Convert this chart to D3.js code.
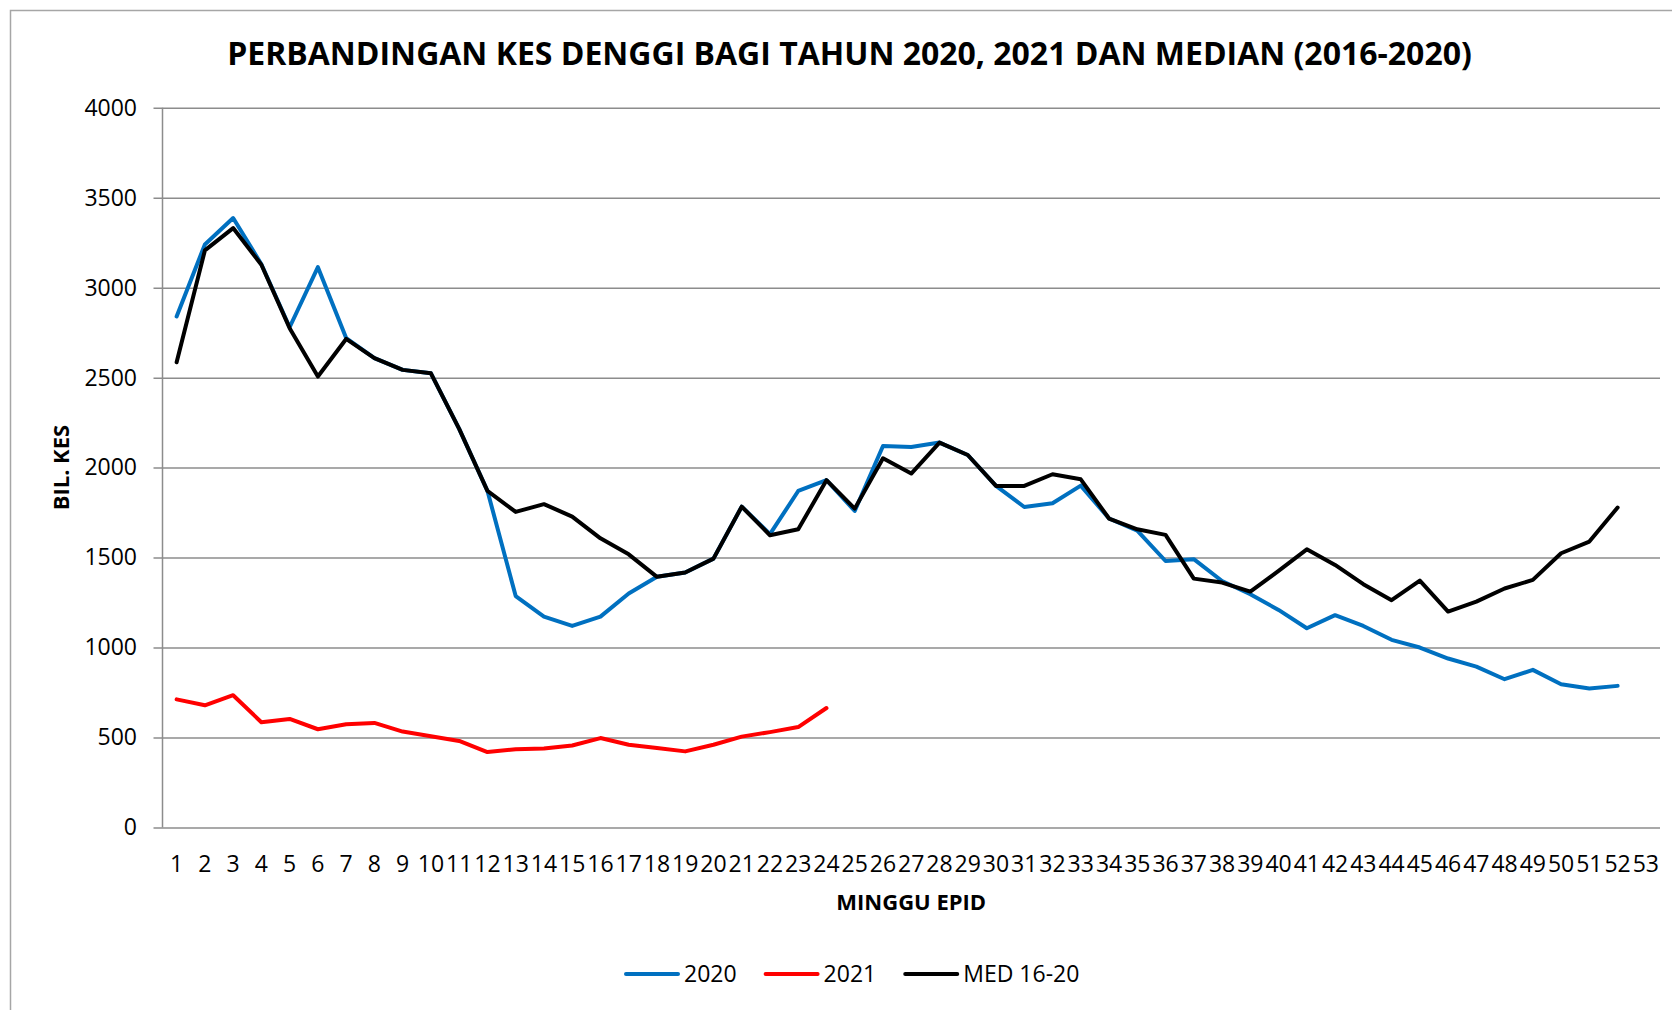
<!DOCTYPE html>
<html>
<head>
<meta charset="utf-8">
<script src="https://cdn.jsdelivr.net/npm/d3@7"></script>
<style>
  body { margin: 0; background: #fff; }
  text { font-family: "Open Sans", sans-serif; fill: #000; }
</style>
</head>
<body>
<div id="chart"></div>
<script>
// ===========Data
var weeks = d3.range(1, 54);
var yTicks = [0, 500, 1000, 1500, 2000, 2500, 3000, 3500, 4000];

var cases2020 = [2840, 3240, 3387, 3130, 2780, 3114, 2720, 2608, 2543, 2524,
  2215, 1871, 1286, 1172, 1120, 1172, 1300, 1393, 1417, 1494,
  1783, 1630, 1870, 1930, 1759, 2120, 2115, 2139, 2070, 1898,
  1781, 1802, 1900, 1717, 1650, 1481, 1491, 1370, 1296, 1209,
  1107, 1180, 1120, 1043, 1000, 939, 894, 824, 876, 796,
  772, 787];

var cases2021 = [712, 679, 735, 585, 603, 546, 574, 581, 533, 507,
  481, 419, 435, 439, 456, 497, 460, 442, 423, 460,
  505, 530, 558, 664];

var median1620 = [2585, 3207, 3331, 3127, 2775, 2506, 2715, 2608, 2543, 2524,
  2215, 1871, 1754, 1797, 1728, 1607, 1518, 1393, 1417, 1494,
  1783, 1624, 1657, 1930, 1772, 2052, 1967, 2139, 2070, 1898,
  1898, 1963, 1935, 1717, 1657, 1626, 1383, 1361, 1311, 1426,
  1546, 1459, 1352, 1263, 1372, 1200, 1255, 1328, 1376, 1524,
  1589, 1778];

var seriesNames = ["2020", "2021", "MED 16-20"];
var seriesColors = ["#0070C0", "#FF0000", "#000000"];
var seriesValues = [cases2020, cases2021, median1620];

// ===========Set Height, Width and Margins
var svgWidth = 1672;
var svgHeight = 1010;
var margin = { top: 107.7, right: 12, bottom: 182.5, left: 162.5 };
var width = svgWidth - margin.left - margin.right;
var height = svgHeight - margin.top - margin.bottom;

var svg = d3.select("#chart").append("svg")
  .attr("width", svgWidth)
  .attr("height", svgHeight);

svg.append("rect")
  .attr("width", svgWidth)
  .attr("height", svgHeight)
  .attr("fill", "#fff");

// outer chart border (right and bottom edges fall outside the picture)
svg.append("rect")
  .attr("x", 10.5)
  .attr("y", 10.5)
  .attr("width", svgWidth + 20)
  .attr("height", svgHeight + 20)
  .attr("fill", "none")
  .attr("stroke", "#a6a6a6")
  .attr("stroke-width", 1.5);

var chartGroup = svg.append("g")
  .attr("transform", `translate(${margin.left}, ${margin.top})`);

// ===========Scales
var xScale = d3.scaleBand()
  .domain(weeks)
  .range([0, width])
  .padding(0);

var yScale = d3.scaleLinear()
  .domain([0, 4000])
  .range([height, 0]);

// ===========Y axis + gridlines
var tickOut = 9;
var yAxis = chartGroup.append("g")
  .attr("transform", `translate(${-tickOut}, 0)`)
  .call(d3.axisLeft(yScale)
    .tickValues(yTicks)
    .tickFormat(d3.format("d"))
    .tickSize(-(width + tickOut))
    .tickPadding(16.5));

yAxis.select(".domain").remove();
yAxis.selectAll(".tick line")
  .attr("stroke", "#8c8c8c")
  .attr("stroke-width", 1.5);
yAxis.selectAll(".tick text")
  .style("font-size", "23px");

chartGroup.append("line")
  .attr("x1", 0).attr("x2", 0)
  .attr("y1", 0).attr("y2", height)
  .attr("stroke", "#8c8c8c")
  .attr("stroke-width", 1.5);

// ===========X axis
var xAxis = chartGroup.append("g")
  .attr("transform", `translate(0, ${height})`)
  .call(d3.axisBottom(xScale).tickSize(0).tickPadding(28));

xAxis.select(".domain").remove();
xAxis.selectAll(".tick text")
  .style("font-size", "23px");

// ===========Lines
var line = d3.line()
  .x((d, i) => xScale(weeks[i]) + xScale.bandwidth() / 2)
  .y(d => yScale(d));

chartGroup.selectAll(".series")
  .data(seriesValues)
  .enter()
  .append("path")
  .attr("class", "series")
  .attr("d", d => line(d))
  .attr("fill", "none")
  .attr("stroke", (d, i) => seriesColors[i])
  .attr("stroke-width", 4)
  .attr("stroke-linejoin", "round")
  .attr("stroke-linecap", "round");

// ===========Titles
var title = svg.append("text")
  .attr("x", 849.5)
  .attr("y", 65)
  .attr("text-anchor", "middle")
  .style("font-weight", "bold")
  .style("font-size", "32px")
  .text("PERBANDINGAN KES DENGGI BAGI TAHUN 2020, 2021 DAN MEDIAN (2016-2020)");

// fit title to the width seen in the picture
var titleW = title.node().getComputedTextLength();
title.style("font-size", (32 * 1245 / titleW) + "px");

svg.append("text")
  .attr("transform", "rotate(-90)")
  .attr("x", -(margin.top + height / 2))
  .attr("y", 69)
  .attr("text-anchor", "middle")
  .style("font-weight", "bold")
  .style("font-size", "22px")
  .text("BIL. KES");

svg.append("text")
  .attr("x", margin.left + width / 2)
  .attr("y", 910)
  .attr("text-anchor", "middle")
  .style("font-weight", "bold")
  .style("font-size", "22px")
  .text("MINGGU EPID");

// ===========Legend
var legendX = 626;
var legendY = 974;
seriesNames.forEach(function(name, i) {
  svg.append("line")
    .attr("x1", legendX).attr("x2", legendX + 52)
    .attr("y1", legendY).attr("y2", legendY)
    .attr("stroke", seriesColors[i])
    .attr("stroke-width", 4)
    .attr("stroke-linecap", "round");
  var t = svg.append("text")
    .attr("x", legendX + 58)
    .attr("y", legendY)
    .attr("dy", "0.36em")
    .style("font-size", "23px")
    .text(name);
  legendX += 58 + t.node().getComputedTextLength() + 29;
});
</script>
</body>
</html>
